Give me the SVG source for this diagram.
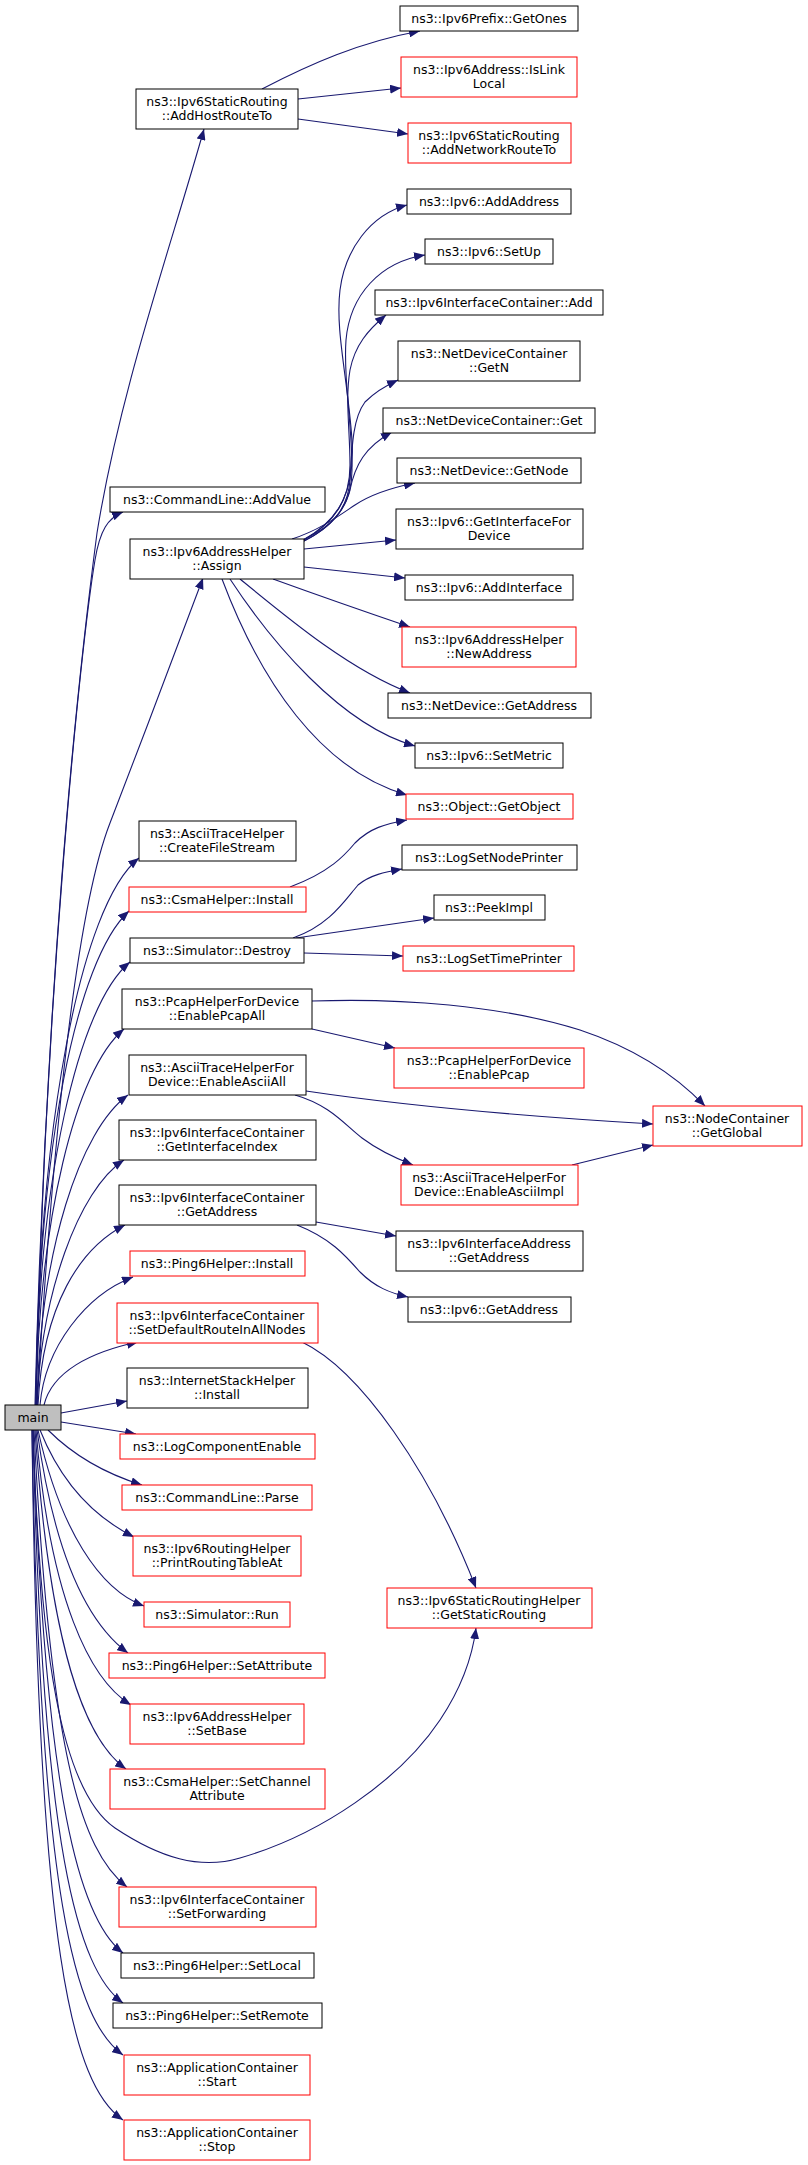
<svg xmlns="http://www.w3.org/2000/svg" width="808" height="2165" viewBox="0 0 808 2165">
<defs>
<marker id="a" markerUnits="userSpaceOnUse" markerWidth="12" markerHeight="9" refX="11" refY="4.5" orient="auto">
<path d="M0,0 L11,4.5 L0,9 z" fill="#191970"/>
</marker>
<style>
rect{fill:#fff;stroke:#000;stroke-width:1}
.r rect{stroke:#f00}
.m rect{fill:#bfbfbf}
text{font-family:"DejaVu Sans","Liberation Sans",sans-serif;font-size:12.5px;text-anchor:middle;fill:#000}
#edges path{fill:none;stroke:#191970;stroke-width:1.1;marker-end:url(#a)}
</style>
</defs>
<rect x="0" y="0" width="808" height="2165" style="fill:#fff;stroke:none"/>
<g id="edges">
<path d="M262,89 C310,64 360,42 420,31"/>
<path d="M298,99 L401,88"/>
<path d="M298,119 L408,134"/>
<path d="M303,540 C340,520 355,490 352,440 C348,380 335,330 340,290 C345,250 370,215 407,205"/>
<path d="M303,540 C335,525 352,505 352,470 C352,420 343,380 346,340 C350,295 380,262 425,255"/>
<path d="M304,540 C335,522 350,500 350,465 C350,430 345,400 350,370 C355,345 368,330 386,315"/>
<path d="M304,541 C330,528 348,510 350,480 C352,445 353,418 365,402 C375,392 385,386 398,380"/>
<path d="M304,541 C330,528 345,510 350,490 C355,465 365,447 392,432"/>
<path d="M292,539 C320,530 340,515 355,505 C370,495 390,488 415,483"/>
<path d="M304,549 L396,540"/>
<path d="M304,567 L405,578"/>
<path d="M273,579 C320,596 360,610 410,627"/>
<path d="M240,579 C290,620 350,670 410,693"/>
<path d="M230,579 C270,640 340,725 415,746"/>
<path d="M222,579 C260,680 320,770 407,795"/>
<path d="M290,887 C330,872 345,855 355,843 C370,828 385,824 407,820"/>
<path d="M293,938 C330,925 345,900 358,885 C370,875 385,872 402,869"/>
<path d="M296,938 L434,918"/>
<path d="M304,953 L403,956"/>
<path d="M312,1001 C400,998 500,1005 580,1030 C640,1050 680,1080 705,1106"/>
<path d="M312,1029 L395,1048"/>
<path d="M306,1091 C400,1105 500,1115 653,1124"/>
<path d="M295,1095 C330,1105 345,1125 362,1138 C378,1150 395,1158 413,1165"/>
<path d="M572,1165 L653,1145"/>
<path d="M316,1222 L396,1236"/>
<path d="M297,1225 C330,1238 345,1255 360,1272 C375,1287 390,1293 408,1297"/>
<path d="M302,1342 C360,1370 430,1470 476,1588"/>
<path d="M36,1405 C45,1000 75,700 97,533 C120,390 170,250 204,129"/>
<path d="M35,1405 C45,1000 80,650 95,560 C100,530 108,518 123,512"/>
<path d="M37,1405 C55,1100 80,900 110,823 C140,745 180,640 203,578"/>
<path d="M36,1405 C38,1130 80,905 139,858"/>
<path d="M36,1405 C38,1150 76,960 129,911"/>
<path d="M36,1405 C38,1180 78,1005 130,962"/>
<path d="M36,1405 C39,1220 75,1070 124,1029"/>
<path d="M37,1405 C40,1250 80,1130 128,1095"/>
<path d="M37,1405 C41,1295 78,1190 124,1160"/>
<path d="M38,1405 C43,1305 80,1248 125,1225"/>
<path d="M40,1405 C45,1347 86,1295 133,1277"/>
<path d="M44,1405 C52,1372 90,1352 138,1342"/>
<path d="M61,1413 L127,1401"/>
<path d="M61,1422 L136,1434"/>
<path d="M48,1430 C70,1452 100,1472 142,1485"/>
<path d="M40,1430 C60,1480 90,1515 134,1537"/>
<path d="M38,1430 C60,1530 100,1590 144,1606"/>
<path d="M37,1430 C55,1560 90,1625 128,1653"/>
<path d="M36,1430 C50,1600 90,1680 131,1705"/>
<path d="M35,1430 C50,1650 85,1740 126,1769"/>
<path d="M33,1430 C40,1650 60,1790 115,1828 C160,1858 200,1870 240,1858 C320,1835 400,1780 440,1720 C460,1690 472,1660 476,1628"/>
<path d="M34,1430 C50,1750 80,1850 127,1887"/>
<path d="M33,1430 C45,1800 80,1920 123,1953"/>
<path d="M33,1430 C42,1850 78,1970 123,2003"/>
<path d="M32,1430 C40,1900 75,2020 123,2055"/>
<path d="M32,1430 C38,1950 72,2085 123,2120"/>
</g>
<g id="n_getones"><rect x="400" y="6" width="178" height="25"/><text x="489" y="23">ns3::Ipv6Prefix::GetOnes</text></g>
<g id="n_islinklocal" class="r"><rect x="401" y="57" width="176" height="40"/><text x="489" y="74">ns3::Ipv6Address::IsLink</text><text x="489" y="88">Local</text></g>
<g id="n_addnetworkrouteto" class="r"><rect x="408" y="123" width="163" height="40"/><text x="489" y="140">ns3::Ipv6StaticRouting</text><text x="489" y="154">::AddNetworkRouteTo</text></g>
<g id="n_addhostrouteto"><rect x="136" y="89" width="162" height="40"/><text x="217" y="106">ns3::Ipv6StaticRouting</text><text x="217" y="120">::AddHostRouteTo</text></g>
<g id="n_addaddress"><rect x="407" y="189" width="164" height="25"/><text x="489" y="206">ns3::Ipv6::AddAddress</text></g>
<g id="n_setup"><rect x="425" y="239" width="128" height="25"/><text x="489" y="256">ns3::Ipv6::SetUp</text></g>
<g id="n_icadd"><rect x="375" y="290" width="228" height="25"/><text x="489" y="307">ns3::Ipv6InterfaceContainer::Add</text></g>
<g id="n_getn"><rect x="398" y="341" width="182" height="40"/><text x="489" y="358">ns3::NetDeviceContainer</text><text x="489" y="372">::GetN</text></g>
<g id="n_ndcget"><rect x="383" y="408" width="212" height="25"/><text x="489" y="425">ns3::NetDeviceContainer::Get</text></g>
<g id="n_getnode"><rect x="397" y="458" width="184" height="25"/><text x="489" y="475">ns3::NetDevice::GetNode</text></g>
<g id="n_getinterfacefordevice"><rect x="396" y="509" width="187" height="40"/><text x="489" y="526">ns3::Ipv6::GetInterfaceFor</text><text x="489" y="540">Device</text></g>
<g id="n_addinterface"><rect x="405" y="575" width="168" height="25"/><text x="489" y="592">ns3::Ipv6::AddInterface</text></g>
<g id="n_newaddress" class="r"><rect x="402" y="627" width="174" height="40"/><text x="489" y="644">ns3::Ipv6AddressHelper</text><text x="489" y="658">::NewAddress</text></g>
<g id="n_ndgetaddress"><rect x="388" y="693" width="203" height="25"/><text x="489" y="710">ns3::NetDevice::GetAddress</text></g>
<g id="n_setmetric"><rect x="415" y="743" width="148" height="25"/><text x="489" y="760">ns3::Ipv6::SetMetric</text></g>
<g id="n_getobject" class="r"><rect x="406" y="794" width="167" height="25"/><text x="489" y="811">ns3::Object::GetObject</text></g>
<g id="n_lognodeprinter"><rect x="402" y="845" width="175" height="25"/><text x="489" y="862">ns3::LogSetNodePrinter</text></g>
<g id="n_peekimpl"><rect x="434" y="895" width="111" height="25"/><text x="489" y="912">ns3::PeekImpl</text></g>
<g id="n_logtimeprinter" class="r"><rect x="403" y="946" width="171" height="25"/><text x="489" y="963">ns3::LogSetTimePrinter</text></g>
<g id="n_enablepcap" class="r"><rect x="394" y="1048" width="190" height="40"/><text x="489" y="1065">ns3::PcapHelperForDevice</text><text x="489" y="1079">::EnablePcap</text></g>
<g id="n_enableasciiimpl" class="r"><rect x="401" y="1165" width="177" height="40"/><text x="489" y="1182">ns3::AsciiTraceHelperFor</text><text x="489" y="1196">Device::EnableAsciiImpl</text></g>
<g id="n_ifaddrgetaddress"><rect x="396" y="1231" width="187" height="40"/><text x="489" y="1248">ns3::Ipv6InterfaceAddress</text><text x="489" y="1262">::GetAddress</text></g>
<g id="n_ipv6getaddress"><rect x="408" y="1297" width="163" height="25"/><text x="489" y="1314">ns3::Ipv6::GetAddress</text></g>
<g id="n_getstaticrouting" class="r"><rect x="387" y="1588" width="205" height="40"/><text x="489" y="1605">ns3::Ipv6StaticRoutingHelper</text><text x="489" y="1619">::GetStaticRouting</text></g>
<g id="n_getglobal" class="r"><rect x="653" y="1106" width="149" height="40"/><text x="727" y="1123">ns3::NodeContainer</text><text x="727" y="1137">::GetGlobal</text></g>
<g id="n_addvalue"><rect x="110" y="487" width="215" height="25"/><text x="217" y="504">ns3::CommandLine::AddValue</text></g>
<g id="n_assign"><rect x="130" y="539" width="174" height="40"/><text x="217" y="556">ns3::Ipv6AddressHelper</text><text x="217" y="570">::Assign</text></g>
<g id="n_createfilestream"><rect x="139" y="821" width="157" height="40"/><text x="217" y="838">ns3::AsciiTraceHelper</text><text x="217" y="852">::CreateFileStream</text></g>
<g id="n_csmainstall" class="r"><rect x="129" y="887" width="177" height="25"/><text x="217" y="904">ns3::CsmaHelper::Install</text></g>
<g id="n_destroy"><rect x="130" y="938" width="174" height="25"/><text x="217" y="955">ns3::Simulator::Destroy</text></g>
<g id="n_enablepcapall"><rect x="122" y="989" width="190" height="40"/><text x="217" y="1006">ns3::PcapHelperForDevice</text><text x="217" y="1020">::EnablePcapAll</text></g>
<g id="n_enableasciiall"><rect x="129" y="1055" width="177" height="40"/><text x="217" y="1072">ns3::AsciiTraceHelperFor</text><text x="217" y="1086">Device::EnableAsciiAll</text></g>
<g id="n_getinterfaceindex"><rect x="119" y="1120" width="197" height="40"/><text x="217" y="1137">ns3::Ipv6InterfaceContainer</text><text x="217" y="1151">::GetInterfaceIndex</text></g>
<g id="n_icgetaddress"><rect x="119" y="1185" width="197" height="40"/><text x="217" y="1202">ns3::Ipv6InterfaceContainer</text><text x="217" y="1216">::GetAddress</text></g>
<g id="n_ping6install" class="r"><rect x="130" y="1251" width="175" height="25"/><text x="217" y="1268">ns3::Ping6Helper::Install</text></g>
<g id="n_setdefaultroute" class="r"><rect x="117" y="1303" width="201" height="40"/><text x="217" y="1320">ns3::Ipv6InterfaceContainer</text><text x="217" y="1334">::SetDefaultRouteInAllNodes</text></g>
<g id="n_internetstackinstall"><rect x="127" y="1368" width="181" height="40"/><text x="217" y="1385">ns3::InternetStackHelper</text><text x="217" y="1399">::Install</text></g>
<g id="n_logcomponentenable" class="r"><rect x="120" y="1434" width="195" height="25"/><text x="217" y="1451">ns3::LogComponentEnable</text></g>
<g id="n_parse" class="r"><rect x="122" y="1485" width="190" height="25"/><text x="217" y="1502">ns3::CommandLine::Parse</text></g>
<g id="n_printroutingtableat" class="r"><rect x="133" y="1536" width="168" height="40"/><text x="217" y="1553">ns3::Ipv6RoutingHelper</text><text x="217" y="1567">::PrintRoutingTableAt</text></g>
<g id="n_run" class="r"><rect x="144" y="1602" width="146" height="25"/><text x="217" y="1619">ns3::Simulator::Run</text></g>
<g id="n_setattribute" class="r"><rect x="109" y="1653" width="216" height="25"/><text x="217" y="1670">ns3::Ping6Helper::SetAttribute</text></g>
<g id="n_setbase" class="r"><rect x="130" y="1704" width="174" height="40"/><text x="217" y="1721">ns3::Ipv6AddressHelper</text><text x="217" y="1735">::SetBase</text></g>
<g id="n_setchannelattribute" class="r"><rect x="110" y="1769" width="215" height="40"/><text x="217" y="1786">ns3::CsmaHelper::SetChannel</text><text x="217" y="1800">Attribute</text></g>
<g id="n_setforwarding" class="r"><rect x="119" y="1887" width="197" height="40"/><text x="217" y="1904">ns3::Ipv6InterfaceContainer</text><text x="217" y="1918">::SetForwarding</text></g>
<g id="n_setlocal"><rect x="121" y="1953" width="193" height="25"/><text x="217" y="1970">ns3::Ping6Helper::SetLocal</text></g>
<g id="n_setremote"><rect x="113" y="2003" width="209" height="25"/><text x="217" y="2020">ns3::Ping6Helper::SetRemote</text></g>
<g id="n_start" class="r"><rect x="124" y="2055" width="186" height="40"/><text x="217" y="2072">ns3::ApplicationContainer</text><text x="217" y="2086">::Start</text></g>
<g id="n_stop" class="r"><rect x="124" y="2120" width="186" height="40"/><text x="217" y="2137">ns3::ApplicationContainer</text><text x="217" y="2151">::Stop</text></g>
<g id="n_main" class="m"><rect x="5" y="1405" width="56" height="25"/><text x="33" y="1422">main</text></g>
</svg>
